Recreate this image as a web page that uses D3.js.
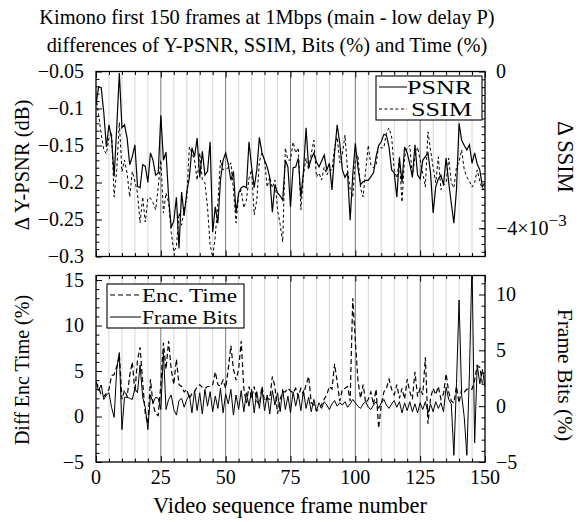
<!DOCTYPE html>
<html><head><meta charset="utf-8">
<script src="https://cdn.jsdelivr.net/npm/d3@7"></script>
<style>
body{margin:0;background:#fff;}
svg text{font-family:"Liberation Serif","Times New Roman",serif;fill:#000;}
</style></head>
<body><svg id="c" width="580" height="522"></svg>
<script>
const titleLines = ["Kimono first 150 frames at 1Mbps (main - low delay P)",
                    "differences of Y-PSNR, SSIM, Bits (%) and Time (%)"];
const xLabel = "Video sequence frame number";
const frames = d3.range(0, 151);
const xTicks = [0, 25, 50, 75, 100, 125, 150];
const psnrTicks = [-0.3, -0.25, -0.2, -0.15, -0.1, -0.05];
const ssimTicks = [-0.004, 0];
const encTicks = [-5, 0, 5, 10, 15];
const bitsTicks = [-5, 0, 5, 10];

const psnr = [-0.095,-0.071,-0.072,-0.105,-0.152,-0.122,-0.140,-0.192,-0.125,-0.052,
-0.126,-0.122,-0.140,-0.176,-0.165,-0.149,-0.205,-0.207,-0.176,-0.178,
-0.200,-0.160,-0.170,-0.190,-0.187,-0.109,-0.170,-0.159,-0.220,-0.261,
-0.252,-0.220,-0.289,-0.213,-0.245,-0.213,-0.193,-0.153,-0.165,-0.140,
-0.193,-0.158,-0.190,-0.185,-0.145,-0.267,-0.233,-0.255,-0.197,-0.170,
-0.160,-0.175,-0.197,-0.185,-0.241,-0.214,-0.207,-0.205,-0.207,-0.145,
-0.179,-0.207,-0.183,-0.139,-0.160,-0.170,-0.179,-0.193,-0.240,-0.203,
-0.214,-0.218,-0.224,-0.170,-0.179,-0.233,-0.180,-0.179,-0.167,-0.220,
-0.185,-0.126,-0.180,-0.168,-0.160,-0.172,-0.179,-0.171,-0.163,-0.183,
-0.174,-0.210,-0.160,-0.122,-0.147,-0.183,-0.193,-0.187,-0.251,-0.190,
-0.147,-0.180,-0.203,-0.199,-0.197,-0.197,-0.192,-0.187,-0.165,-0.150,
-0.145,-0.135,-0.136,-0.152,-0.183,-0.187,-0.220,-0.166,-0.200,-0.152,
-0.160,-0.175,-0.193,-0.149,-0.190,-0.195,-0.170,-0.165,-0.160,-0.187,
-0.241,-0.206,-0.195,-0.190,-0.203,-0.167,-0.200,-0.228,-0.255,-0.210,
-0.120,-0.143,-0.150,-0.156,-0.149,-0.174,-0.160,-0.175,-0.183,-0.206,-0.200];

// Delta SSIM in units of 1e-3
const ssimMilli = [-0.65,-1.10,-1.60,-2.00,-2.10,-1.70,-1.55,-3.20,-2.50,-1.30,
-2.56,-2.26,-2.60,-3.20,-2.55,-2.80,-3.10,-3.86,-3.20,-3.84,
-3.23,-3.23,-3.35,-3.53,-2.95,-2.26,-3.61,-3.10,-3.35,-4.10,
-4.60,-4.48,-3.61,-3.92,-3.53,-3.23,-1.93,-2.08,-2.26,-2.77,
-2.08,-2.77,-2.84,-3.46,-4.43,-4.73,-4.20,-3.35,-2.26,-2.51,
-2.48,-2.46,-2.33,-3.02,-3.86,-3.15,-3.02,-3.48,-3.28,-2.72,
-2.51,-3.66,-3.28,-2.30,-2.08,-2.26,-2.95,-2.69,-2.97,-2.77,
-3.53,-3.90,-4.35,-1.95,-2.26,-2.26,-1.80,-2.08,-1.95,-3.53,
-2.64,-2.21,-2.51,-2.10,-1.75,-2.69,-2.59,-2.77,-2.44,-2.64,
-2.51,-2.51,-1.93,-1.67,-2.33,-2.13,-1.62,-2.51,-3.00,-3.20,
-2.26,-2.13,-2.97,-3.20,-2.51,-1.88,-2.39,-2.46,-2.39,-1.88,
-1.95,-1.95,-1.54,-1.44,-1.67,-2.51,-2.72,-2.26,-3.33,-2.18,
-1.95,-1.88,-2.69,-2.18,-1.93,-2.26,-2.60,-2.95,-1.54,-2.00,
-2.44,-2.84,-2.18,-3.02,-2.90,-2.84,-2.21,-2.84,-2.97,-2.44,
-2.30,-2.00,-2.51,-2.69,-2.80,-2.95,-2.84,-2.51,-2.80,-3.02,-2.90];

const encTime = [3.8,3.2,2.4,2.2,2.5,3.0,4.5,4.6,5.5,6.8,
1.9,2.9,2.2,4.5,6.0,2.7,6.2,7.6,3.8,0.3,
-0.8,4.1,1.3,0.3,0.1,3.5,8.1,5.2,8.3,5.2,
3.5,6.3,3.5,3.3,2.7,3.0,2.0,2.5,2.7,3.3,
3.5,3.2,3.1,3.3,3.3,3.5,4.9,3.5,3.3,4.0,
3.1,5.2,7.8,5.2,4.0,5.2,8.3,3.1,1.5,3.3,
2.0,3.3,1.7,1.3,3.3,1.7,2.0,1.9,4.4,3.3,
0.3,1.9,2.7,2.7,3.1,2.8,2.6,3.1,2.2,3.1,
2.4,3.5,4.4,1.5,1.3,0.6,0.8,1.3,1.9,2.4,
3.3,3.0,5.8,3.8,1.7,3.0,3.1,3.3,1.7,13.0,
8.4,4.0,2.0,3.5,1.5,1.9,2.7,1.3,3.0,-1.3,
1.3,2.7,3.1,4.1,3.0,2.4,3.5,2.0,3.1,1.9,
4.1,2.7,1.9,4.9,2.2,3.1,2.4,6.5,-0.8,2.0,
3.1,2.4,3.3,1.9,2.5,4.7,2.7,1.7,1.5,3.3,
1.5,3.0,2.7,3.0,3.0,3.0,4.0,5.6,5.4,3.6,3.5];

const frameBits = [2.2,1.4,1.9,0.6,1.0,1.2,-0.1,-1.0,3.3,4.8,
-2.1,0.8,0.8,0.7,0.6,1.6,1.2,3.7,0.8,-0.1,
-2.1,1.0,0.3,0.8,0.7,-0.3,4.8,-0.3,0.6,1.0,
-0.3,-0.8,0.5,0.7,-0.1,0.6,1.0,-0.6,1.4,-0.4,
1.2,-0.7,1.5,0.0,1.3,-0.5,0.9,-0.2,1.6,-0.6,
1.1,0.2,1.5,-0.8,1.0,-0.3,1.4,-0.5,1.2,0.0,
1.5,-0.6,1.3,-0.2,1.6,-0.4,1.0,-0.7,1.4,0.1,
1.2,-0.5,1.5,-0.3,0.9,-0.6,1.3,0.0,1.1,-0.4,
1.4,-0.2,0.8,-0.5,0.6,-0.4,0.3,-0.2,0.4,0.1,
-0.3,0.2,0.5,0.0,0.3,0.1,0.4,-0.1,0.2,0.6,
0.3,0.0,-0.2,0.2,0.4,-0.1,-0.3,0.1,0.4,-0.2,
0.3,0.6,0.1,-0.2,0.2,0.5,-0.1,0.4,-0.6,0.3,
-0.4,0.4,-0.5,0.2,-0.6,0.3,-0.3,0.4,-0.6,0.2,
-0.5,0.4,-0.2,0.3,-0.5,1.7,0.6,0.2,-4.4,2.0,
9.5,1.0,-1.0,-4.4,3.0,13.0,-3.3,3.7,2.0,3.3,1.7];

const svg = d3.select("#c");
const L = 96, R = 485;
const top1 = 71.5, bot1 = 256.5, top2 = 275.5, bot2 = 462;
const FS = 20;

const x = d3.scaleLinear().domain([0,150]).range([L,R]);
const yP = d3.scaleLinear().domain([-0.3,-0.05]).range([bot1,top1]);
const yS = d3.scaleLinear().domain([-4.72e-3,0]).range([bot1,top1]);
const yE = d3.scaleLinear().domain([-5,15.5]).range([bot2,top2]);
const yB = d3.scaleLinear().domain([-5,11.7]).range([bot2,top2]);

svg.append("g").selectAll("text").data(titleLines).join("text")
  .attr("x", 267).attr("y", (d,i)=> 24 + i*28).attr("text-anchor","middle")
  .attr("font-size", 20.4).text(d=>d);
svg.append("text").attr("x", 290).attr("y", 513).attr("text-anchor","middle")
  .attr("font-size", 22.5).text(xLabel);

function rotText(txt, cx, cy, ang, fs){
  svg.append("text").attr("transform",`translate(${cx},${cy}) rotate(${ang})`)
    .attr("text-anchor","middle").attr("dominant-baseline","central")
    .attr("font-size", fs||FS).text(txt);
}
rotText("Δ Y-PSNR (dB)", 22, 165, -90, 20.5);
rotText("Diff Enc Time (%)", 22, 370, -90, 20);
rotText("Δ SSIM", 565, 157, 90, 22.5);
rotText("Frame Bits (%)", 565, 375, 90, 21.5);

const defs = svg.append("defs");
defs.append("clipPath").attr("id","cp1").append("rect").attr("x",L).attr("y",top1).attr("width",R-L).attr("height",bot1-top1);
defs.append("clipPath").attr("id","cp2").append("rect").attr("x",L).attr("y",top2).attr("width",R-L).attr("height",bot2-top2);

const grid5 = d3.range(5,150,5);
function grid(t,b){
  const g = svg.append("g");
  g.selectAll("line").data(grid5).join("line")
    .attr("x1",d=>x(d)).attr("x2",d=>x(d)).attr("y1",t).attr("y2",b)
    .attr("stroke", d=> d%25===0 ? "#7a7a7a" : "#d6d6d6")
    .attr("stroke-width", 1);
}
grid(top1,bot1); grid(top2,bot2);

function axes(t,b,yl,yr,ltk,rtk,lminor,rminor,lfmt,rfmt,rpad){
  svg.append("g").attr("transform",`translate(0,${b})`)
    .call(d3.axisBottom(x).tickValues(xTicks).tickSize(-6).tickFormat(""));
  svg.append("g").attr("transform",`translate(0,${b})`)
    .call(d3.axisBottom(x).tickValues(grid5.filter(d=>d%25)).tickSize(-3.5).tickFormat(""));
  svg.append("g").attr("transform",`translate(0,${t})`)
    .call(d3.axisTop(x).tickValues(xTicks).tickSize(-6).tickFormat(""));
  svg.append("g").attr("transform",`translate(0,${t})`)
    .call(d3.axisTop(x).tickValues(grid5.filter(d=>d%25)).tickSize(-3.5).tickFormat(""));
  const gl = svg.append("g").attr("transform",`translate(${L},0)`)
    .call(d3.axisLeft(yl).tickValues(ltk).tickSize(-6).tickPadding(12).tickFormat(lfmt));
  svg.append("g").attr("transform",`translate(${L},0)`)
    .call(d3.axisLeft(yl).tickValues(lminor).tickSize(-3.5).tickFormat(""));
  const gr = svg.append("g").attr("transform",`translate(${R},0)`)
    .call(d3.axisRight(yr).tickValues(rtk).tickSize(-6).tickPadding(rpad).tickFormat(rfmt));
  svg.append("g").attr("transform",`translate(${R},0)`)
    .call(d3.axisRight(yr).tickValues(rminor).tickSize(-3.5).tickFormat(""));
  svg.selectAll(".domain").remove();
  [gl,gr].forEach(g=>g.selectAll("text").attr("font-size",FS).attr("font-family","Liberation Serif"));
  svg.selectAll(".tick line").attr("stroke","#000");
  return {gl,gr};
}

const psnrMinor = d3.range(-0.29,-0.05,0.01).map(v=>+v.toFixed(3)).filter(v=>Math.abs(v*100 % 5) > 0.01);
const ssimMinor = d3.range(-4.6,0,0.2).map(v=>+(v*1e-3).toFixed(7));
const encMinor = d3.range(-4,15,1).filter(v=>v%5!==0);
const bitsMinor = d3.range(-4,12,1).filter(v=>v%5!==0);

const a1 = axes(top1,bot1,yP,yS,psnrTicks,ssimTicks,psnrMinor,ssimMinor,
  d=>d3.format(".2~f")(d), d=> d===0 ? "0" : "X", 11);
a1.gr.selectAll("text").each(function(d){
  if(d!==0){
    const t = d3.select(this).text("−4×10");
    t.append("tspan").attr("dy",-9).attr("font-size",17).text("−3");
  }
});
const a2 = axes(top2,bot2,yE,yB,encTicks,bitsTicks,encMinor,bitsMinor,
  d=>d3.format("~g")(d), d=>d3.format("~g")(d), 11);

[[top1,bot1],[top2,bot2]].forEach(([t,b])=>{
  svg.append("rect").attr("x",L).attr("y",t).attr("width",R-L).attr("height",b-t)
    .attr("fill","none").attr("stroke","#000").attr("stroke-width",1.3);
});

const p1 = svg.append("g").attr("clip-path","url(#cp1)");
p1.append("path").datum(ssimMilli).attr("fill","none").attr("stroke","#000").attr("stroke-width",1)
  .attr("stroke-dasharray","3,2.5")
  .attr("d", d3.line().x((d,i)=>x(frames[i])).y(d=>yS(d*1e-3)));
p1.append("path").datum(psnr).attr("fill","none").attr("stroke","#000").attr("stroke-width",1.2)
  .attr("d", d3.line().x((d,i)=>x(frames[i])).y(d=>yP(d)));

const p2 = svg.append("g").attr("clip-path","url(#cp2)");
p2.append("path").datum(frameBits).attr("fill","none").attr("stroke","#000").attr("stroke-width",1)
  .attr("d", d3.line().x((d,i)=>x(frames[i])).y(d=>yB(d)));
p2.append("path").datum(encTime).attr("fill","none").attr("stroke","#000").attr("stroke-width",1.2)
  .attr("stroke-dasharray","5,3")
  .attr("d", d3.line().x((d,i)=>x(frames[i])).y(d=>yE(d)));

svg.append("g").selectAll("text").data(xTicks).join("text")
  .attr("x",d=>x(d)).attr("y",484).attr("text-anchor","middle").attr("font-size",FS).text(d=>d);

function legend(bx,by,bw,bh,items){
  const g = svg.append("g");
  g.append("rect").attr("x",bx).attr("y",by).attr("width",bw).attr("height",bh)
    .attr("fill","#fff").attr("stroke","#000").attr("stroke-width",1.1);
  items.forEach(it=>{
    g.append("line").attr("x1",it.x1).attr("x2",it.x2).attr("y1",it.y).attr("y2",it.y)
      .attr("stroke","#000").attr("stroke-width",1).attr("stroke-dasharray",it.dash||null);
    g.append("text").attr("x",it.tx).attr("y",it.y).attr("dominant-baseline","central")
      .attr("font-size",19.5).attr("textLength",it.w).attr("lengthAdjust","spacingAndGlyphs")
      .text(it.label);
  });
}
legend(376,76,106,44,[
  {label:"PSNR", x1:379,x2:407,y:87,tx:407,w:65},
  {label:"SSIM", x1:379,x2:407,y:109,tx:411,w:61,dash:"3,2.5"}
]);
legend(107,284,137,44,[
  {label:"Enc. Time", x1:110,x2:141,y:295,tx:142,w:95,dash:"5,3"},
  {label:"Frame Bits", x1:110,x2:141,y:317,tx:142,w:95}
]);
</script></body></html>
